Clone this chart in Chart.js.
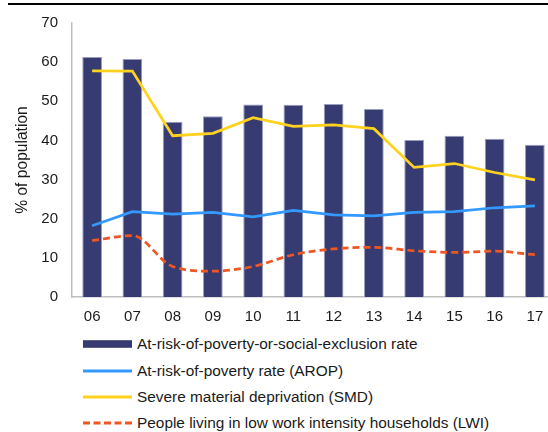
<!DOCTYPE html>
<html>
<head>
<meta charset="utf-8">
<script src="https://cdn.jsdelivr.net/npm/chart.js@4/dist/chart.umd.min.js"></script>
<style>
  html, body { margin: 0; padding: 0; background: #fff; overflow: hidden; width: 548px; height: 432px; }
  #wrap { position: relative; width: 548px; height: 432px; overflow: hidden; }
  #topline { position: absolute; left: 8px; top: 3px; width: 540px; height: 2px; background: #000; }
  #c { position: absolute; left: 0; top: 0; }
  .lg { position: absolute; left: 83px; height: 20px; font-family: "Liberation Sans", Arial, sans-serif; font-size: 15.4px; color: #1a1a1a; white-space: nowrap; }
  .lg svg { position: absolute; left: 0; top: 0; }
  .lg span { position: absolute; left: 54px; top: 0px; line-height: 20px; }
</style>
</head>
<body>
<div id="wrap">
  <canvas id="c" width="600" height="332"></canvas>
  <div id="topline"></div>
  <div id="legend"></div>
</div>
<script>
const categories = ["06","07","08","09","10","11","12","13","14","15","16","17"];
const aropeRate = [61.3, 60.8, 44.8, 46.2, 49.2, 49.1, 49.3, 48.0, 40.1, 41.2, 40.4, 38.9];
const aropRate  = [18.2, 21.8, 21.2, 21.6, 20.5, 22.1, 21.0, 20.7, 21.6, 21.8, 22.8, 23.3];
const smdRate   = [57.8, 57.7, 41.2, 41.8, 45.8, 43.6, 44.0, 43.0, 33.1, 34.1, 31.8, 29.9];
const lwiRate   = [14.4, 15.7, 7.8, 6.6, 7.8, 10.8, 12.3, 12.7, 11.8, 11.4, 11.7, 10.8];
const seriesNames = [
  "At-risk-of-poverty-or-social-exclusion rate",
  "At-risk-of-poverty rate (AROP)",
  "Severe material deprivation (SMD)",
  "People living in low work intensity households (LWI)"
];
const yTicks = [0, 10, 20, 30, 40, 50, 60, 70];
const yTitle = "% of population";

const NAVY = "#363B71", BLUE = "#3399FF", YELLOW = "#FFD21F", ORANGE = "#EE5622";
const FONT = "'Liberation Sans', Arial, sans-serif";

new Chart(document.getElementById("c"), {
  data: {
    labels: categories,
    datasets: [
      { type: "bar", label: seriesNames[0], data: aropeRate, backgroundColor: NAVY,
        borderColor: "#9A9DBD", borderWidth: 1, categoryPercentage: 1, barPercentage: 0.49, order: 2 },
      { type: "line", label: seriesNames[1], data: aropRate, borderColor: BLUE, borderWidth: 2.75,
        pointRadius: 0, tension: 0, order: 1 },
      { type: "line", label: seriesNames[2], data: smdRate, borderColor: YELLOW, borderWidth: 2.75,
        pointRadius: 0, tension: 0, order: 1 },
      { type: "line", label: seriesNames[3], data: lwiRate, borderColor: ORANGE, borderWidth: 2.75,
        borderDash: [7, 4], pointRadius: 0, tension: 0.4, cubicInterpolationMode: "monotone", order: 1 }
    ]
  },
  options: {
    responsive: false,
    animation: false,
    layout: { padding: { top: 22, right: 45, left: 0, bottom: 0 } },
    plugins: { legend: { display: false }, tooltip: { enabled: false } },
    scales: {
      x: {
        grid: { display: false, drawTicks: false },
        border: { display: true, color: "#BFBFBF", width: 1.5 },
        ticks: { padding: 11, color: "#1a1a1a", font: { family: FONT, size: 15 } },
        afterFit: (s) => { s.height = 35; }
      },
      y: {
        min: 0, max: 70,
        afterBuildTicks: (s) => { s.ticks = yTicks.map(v => ({ value: v })); },
        grid: { display: false, drawTicks: false },
        border: { display: true, color: "#BFBFBF", width: 1.5 },
        ticks: { padding: 14, color: "#1a1a1a", font: { family: FONT, size: 15 } },
        title: { display: true, text: yTitle, color: "#1a1a1a", font: { family: FONT, size: 15.6 }, padding: { top: 13, bottom: 0 } },
        afterFit: (s) => { s.width = 72; }
      }
    }
  }
});

// Legend (vertical list below the chart)
const legendRows = [
  { kind: "box", color: NAVY },
  { kind: "line", color: BLUE },
  { kind: "line", color: YELLOW },
  { kind: "dash", color: ORANGE }
];
const rowCenters = [344, 370.5, 397, 423.4];
const lg = document.getElementById("legend");
legendRows.forEach((r, i) => {
  const d = document.createElement("div");
  d.className = "lg";
  d.style.top = (rowCenters[i] - 10) + "px";
  let mark;
  if (r.kind === "box") {
    mark = `<svg width="50" height="20"><rect x="0" y="6.2" width="49" height="7.6" fill="${r.color}"/></svg>`;
  } else if (r.kind === "line") {
    mark = `<svg width="50" height="20"><line x1="0" y1="10" x2="49" y2="10" stroke="${r.color}" stroke-width="3"/></svg>`;
  } else {
    mark = `<svg width="50" height="20"><line x1="0" y1="10" x2="49" y2="10" stroke="${r.color}" stroke-width="3" stroke-dasharray="7 3.5"/></svg>`;
  }
  d.innerHTML = mark + `<span>${seriesNames[i]}</span>`;
  lg.appendChild(d);
});
</script>
</body>
</html>
